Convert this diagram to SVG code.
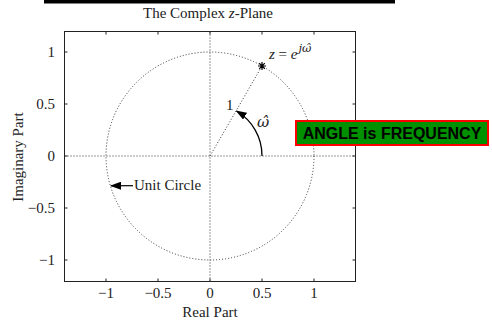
<svg xmlns="http://www.w3.org/2000/svg" width="492" height="323" viewBox="0 0 492 323">
<style>
text{font-family:"Liberation Serif","Times New Roman",serif;font-size:15px;fill:#222}
.dot{fill:none;stroke:#333;stroke-width:1;stroke-dasharray:1 2}
.tick{stroke:#222;stroke-width:1}
.xl{text-anchor:middle}
.yl{text-anchor:end}
.om{font-family:"DejaVu Serif",serif;font-style:italic}
</style>
<defs>
<marker id="ah" markerWidth="11" markerHeight="8" refX="10" refY="4" orient="auto" markerUnits="userSpaceOnUse">
<path d="M0,0 L11,4 L0,8 Z" fill="#000"/>
</marker>
</defs>
<rect x="0" y="0" width="492" height="323" fill="#fff"/>
<rect x="44" y="0" width="351" height="3.5" fill="#000"/>
<text x="208" y="18" class="xl">The Complex <tspan font-style="italic">z</tspan>-Plane</text>
<g id="axes">
<rect x="64.5" y="31.5" width="291" height="250" fill="none" stroke="#222" stroke-width="1"/>
<g class="tick">
<path d="M106,31.5v3M158,31.5v3M210,31.5v3M262,31.5v3M314,31.5v3"/>
<path d="M106,281.5v-3M158,281.5v-3M210,281.5v-3M262,281.5v-3M314,281.5v-3"/>
<path d="M64.5,52h3M64.5,104h3M64.5,156h3M64.5,208h3M64.5,260h3"/>
<path d="M355.5,52h-3M355.5,104h-3M355.5,156h-3M355.5,208h-3M355.5,260h-3"/>
</g>
<text x="106" y="298" class="xl">−1</text>
<text x="158" y="298" class="xl">−0.5</text>
<text x="210" y="298" class="xl">0</text>
<text x="262" y="298" class="xl">0.5</text>
<text x="314" y="298" class="xl">1</text>
<text x="55" y="57" class="yl">1</text>
<text x="55" y="109" class="yl">0.5</text>
<text x="55" y="161" class="yl">0</text>
<text x="55" y="213" class="yl">−0.5</text>
<text x="55" y="265" class="yl">−1</text>
<text x="210" y="317" class="xl">Real Part</text>
<text transform="translate(23,157) rotate(-90)" class="xl">Imaginary Part</text>
</g>
<g id="connectors">
<line x1="64.5" y1="156" x2="355.5" y2="156" class="dot"/>
<line x1="210" y1="31.5" x2="210" y2="281.5" class="dot"/>
<circle cx="210" cy="156" r="104" class="dot"/>
<line x1="210" y1="156" x2="262" y2="66" class="dot"/>
<path d="M262,156 A52,52 0 0 0 236.5,111" fill="none" stroke="#000" stroke-width="1.3" marker-end="url(#ah)"/>
<line x1="133" y1="185.7" x2="111" y2="185.7" stroke="#000" stroke-width="1.2" marker-end="url(#ah)"/>
</g>
<g id="point">
<path d="M258,66h8M262,62v8M259.2,63.2l5.6,5.6M264.8,63.2l-5.6,5.6" stroke="#000" stroke-width="1.2"/>
<text x="269" y="59"><tspan font-style="italic">z</tspan> = <tspan font-style="italic">e</tspan><tspan font-size="11.5" class="om" dx="1" dy="-7">jω̂</tspan></text>
</g>
<g id="labels">
<text x="226" y="110">1</text>
<text x="257" y="127" class="om" font-size="14">ω̂</text>
<text x="134" y="190">Unit Circle</text>
</g>
<g id="angle-box">
<rect x="296" y="121" width="192" height="24" fill="#009000" stroke="#f00" stroke-width="2"/>
<text x="392" y="138.5" text-anchor="middle" style="font-family:'Liberation Sans',Arial,sans-serif;font-weight:bold;font-size:16px;fill:#000">ANGLE is FREQUENCY</text>
</g>
</svg>
